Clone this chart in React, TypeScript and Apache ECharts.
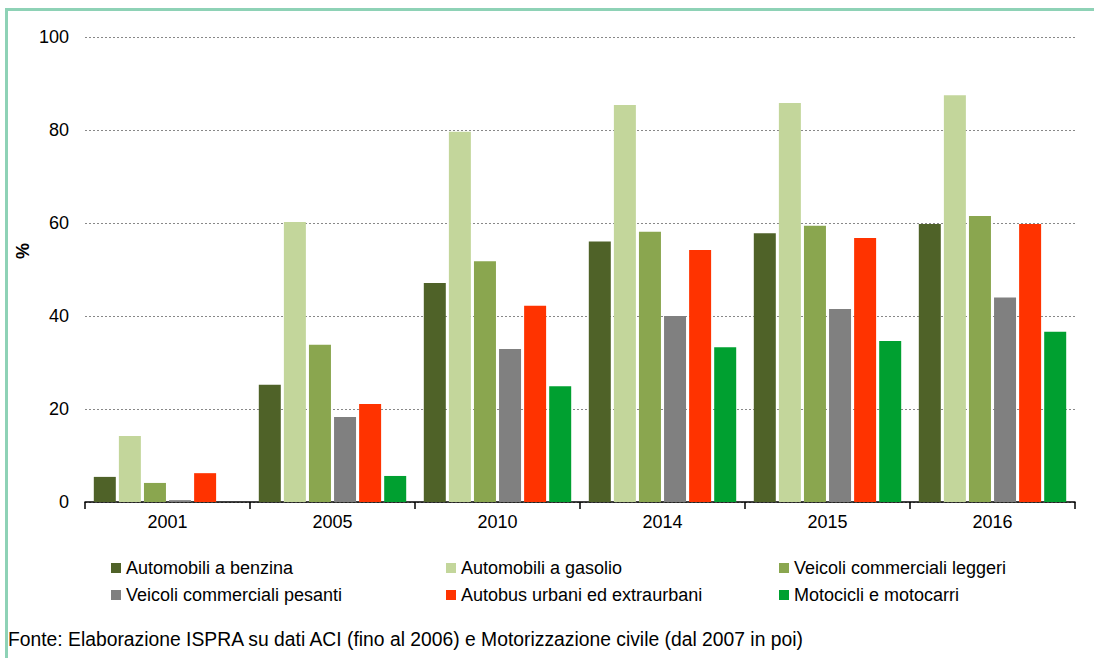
import React, { useEffect, useRef } from "react";
import * as echarts from "echarts";

const categories = ["2001", "2005", "2010", "2014", "2015", "2016"];
const seriesNames = [
  "Automobili a benzina",
  "Automobili a gasolio",
  "Veicoli commerciali leggeri",
  "Veicoli commerciali pesanti",
  "Autobus urbani ed extraurbani",
  "Motocicli e motocarri",
];
const automobiliBenzina = [5.4, 25.2, 47.1, 56.0, 57.8, 59.8];
const automobiliGasolio = [14.2, 60.2, 79.6, 85.4, 85.8, 87.5];
const commercialiLeggeri = [4.1, 33.8, 51.8, 58.1, 59.4, 61.5];
const commercialiPesanti = [0.4, 18.3, 32.9, 40.0, 41.5, 44.0];
const autobus = [6.2, 21.1, 42.2, 54.2, 56.8, 59.8];
const motocicli = [0, 5.6, 24.9, 33.3, 34.6, 36.6];
const colors = ["#4f6228", "#c3d69b", "#8aa64f", "#808080", "#ff3300", "#00a030"];
const yTicks = [0, 20, 40, 60, 80, 100];
const yName = "%";
const sourceText =
  "Fonte: Elaborazione ISPRA su dati ACI (fino al 2006) e Motorizzazione civile (dal 2007 in poi)";

const FONT = "'Liberation Sans', Arial, sans-serif";

export default function App() {
  const ref = useRef<HTMLDivElement>(null);
  useEffect(() => {
    const chart = echarts.init(ref.current!, null, { renderer: "svg" });
    const data = [
      automobiliBenzina,
      automobiliGasolio,
      commercialiLeggeri,
      commercialiPesanti,
      autobus,
      motocicli,
    ];
    const legendText = { fontSize: 18, color: "#000", fontFamily: FONT, lineHeight: 18 };
    const legendBase = {
      orient: "vertical" as const,
      itemWidth: 10,
      itemHeight: 10,
      itemGap: 9,
      padding: 0,
      icon: "rect",
      textStyle: legendText,
      top: 559,
      selectedMode: false,
    };
    chart.setOption({
      animation: false,
      color: colors,
      grid: { left: 85, right: 19, top: 37, bottom: 156 },
      xAxis: {
        type: "category",
        data: categories,
        axisLine: { lineStyle: { color: "#000", width: 1.5 } },
        axisTick: { show: true, length: 7, lineStyle: { color: "#000", width: 1.5 } },
        axisLabel: { fontSize: 18, color: "#000", fontFamily: FONT, margin: 11 },
      },
      yAxis: {
        type: "value",
        min: 0,
        max: 100,
        interval: 20,
        axisLine: { show: false },
        axisTick: { show: false },
        axisLabel: {
          fontSize: 18,
          color: "#000",
          fontFamily: FONT,
          margin: 16,
          formatter: (v: number) => (yTicks.includes(v) ? String(v) : ""),
        },
        splitLine: { lineStyle: { color: "#888", type: [2, 2], width: 1 } },
      },
      legend: [
        { ...legendBase, left: 111, data: [seriesNames[0], seriesNames[3]] },
        { ...legendBase, left: 446, data: [seriesNames[1], seriesNames[4]] },
        { ...legendBase, left: 779, data: [seriesNames[2], seriesNames[5]] },
      ],
      series: seriesNames.map((name, i) => ({
        name,
        type: "bar",
        data: data[i],
        barWidth: 22,
        barGap: "14%",
        itemStyle: { color: colors[i] },
      })),
      graphic: [
        { type: "rect", shape: { x: 5, y: 8, width: 1089, height: 3 }, style: { fill: "#8ed2b6" } },
        { type: "rect", shape: { x: 5, y: 8, width: 3, height: 650 }, style: { fill: "#8ed2b6" } },
        {
          type: "text",
          x: 23,
          y: 251,
          rotation: Math.PI / 2,
          style: {
            text: yName,
            fontSize: 18,
            fontWeight: "bold",
            fill: "#000",
            fontFamily: FONT,
            align: "center",
            verticalAlign: "middle",
          },
        },
        {
          type: "text",
          x: 8,
          y: 639,
          scaleX: 0.92,
          style: {
            text: sourceText,
            fontSize: 21,
            fill: "#000",
            fontFamily: FONT,
            align: "left",
            verticalAlign: "middle",
          },
        },
      ],
    });
    return () => chart.dispose();
  }, []);
  return (
    <div
      ref={ref}
      style={{ position: "absolute", left: 0, top: 0, width: 1094, height: 658, background: "#fff" }}
    />
  );
}
